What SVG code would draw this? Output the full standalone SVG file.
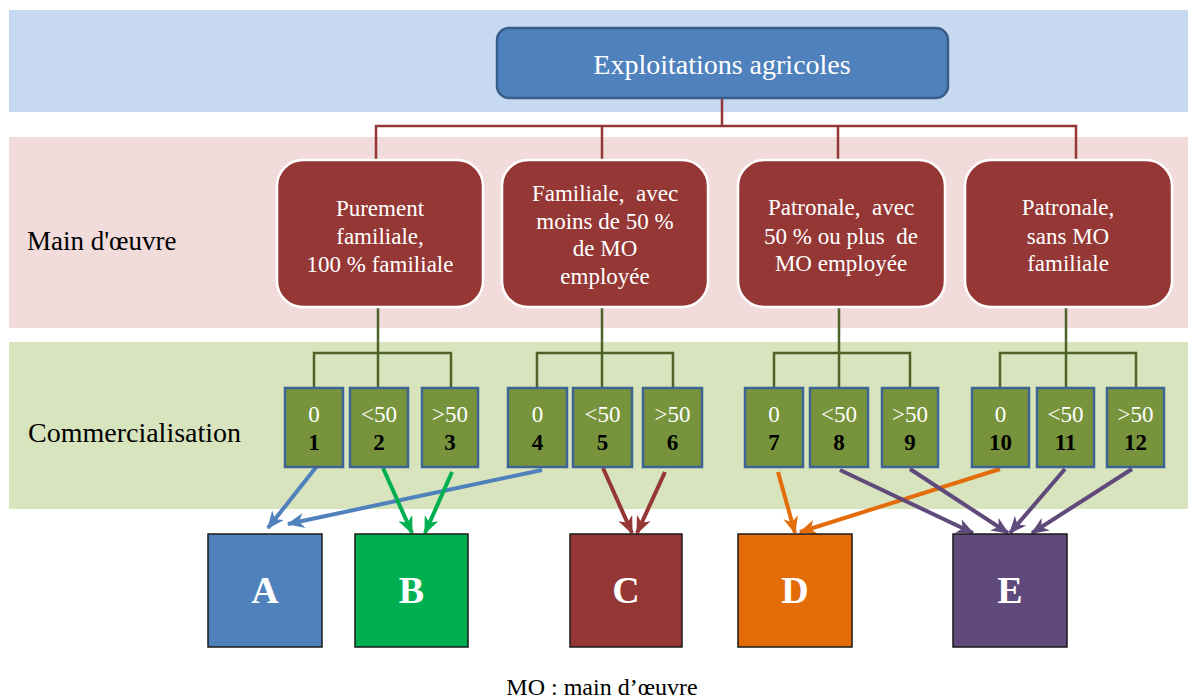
<svg xmlns="http://www.w3.org/2000/svg" width="1188" height="700" viewBox="0 0 1188 700">
<style>
.band{stroke:none}
.lbl{font-family:"Liberation Serif","Times New Roman",serif;font-size:27px;fill:#000}
.top{fill:#4f81bd;stroke:#385d8a;stroke-width:2.5}
.mo{fill:#953735;stroke:#ffffff;stroke-width:2.5}
.wt{font-family:"Liberation Serif","Times New Roman",serif;font-size:23px;fill:#fff;text-anchor:middle}
.box{fill:#77933c;stroke:#3e6494;stroke-width:2.5}
.bt{font-family:"Liberation Serif","Times New Roman",serif;font-size:23px;fill:#fff;text-anchor:middle}
.bn{font-family:"Liberation Serif","Times New Roman",serif;font-size:23px;font-weight:bold;fill:#000;text-anchor:middle}
.cat{stroke:#1a1a1a;stroke-width:1.5}
.ct{font-family:"Liberation Serif","Times New Roman",serif;font-size:38px;font-weight:bold;fill:#fff;text-anchor:middle}
.rc{fill:none;stroke:#953735;stroke-width:2.5}
.gc{fill:none;stroke:#4f6228;stroke-width:2.5}
.ar{fill:none;stroke-width:4}
</style>
<defs>
<marker id="mA" viewBox="0 0 14 12" refX="13" refY="6" markerWidth="18" markerHeight="15" markerUnits="userSpaceOnUse" orient="auto"><path d="M0,0 L14,6 L0,12 L4,6 z" fill="#4f81bd"/></marker>
<marker id="mB" viewBox="0 0 14 12" refX="13" refY="6" markerWidth="18" markerHeight="15" markerUnits="userSpaceOnUse" orient="auto"><path d="M0,0 L14,6 L0,12 L4,6 z" fill="#00b050"/></marker>
<marker id="mC" viewBox="0 0 14 12" refX="13" refY="6" markerWidth="18" markerHeight="15" markerUnits="userSpaceOnUse" orient="auto"><path d="M0,0 L14,6 L0,12 L4,6 z" fill="#953735"/></marker>
<marker id="mD" viewBox="0 0 14 12" refX="13" refY="6" markerWidth="18" markerHeight="15" markerUnits="userSpaceOnUse" orient="auto"><path d="M0,0 L14,6 L0,12 L4,6 z" fill="#e46c0a"/></marker>
<marker id="mE" viewBox="0 0 14 12" refX="13" refY="6" markerWidth="18" markerHeight="15" markerUnits="userSpaceOnUse" orient="auto"><path d="M0,0 L14,6 L0,12 L4,6 z" fill="#604a7b"/></marker>
</defs>
<rect width="1188" height="700" fill="#fff"/>
<g id="bands">
<rect class="band" x="9" y="10" width="1179" height="102" fill="#c6d9f1"/>
<rect class="band" x="9" y="137" width="1179" height="191" fill="#f2dcdb"/>
<rect class="band" x="9" y="342" width="1179" height="167" fill="#d7e4bd"/>
<text class="lbl" x="27" y="250">Main d'œuvre</text>
<text class="lbl" x="28" y="442" style="font-size:28px">Commercialisation</text>
</g>
<g id="connectors">
<path class="rc" d="M722,98 V126 M376,160 V126 H1076 V160 M602,126 V160 M838,126 V160"/>
<path class="gc" d="M378,307 V353 M314,388 V353 H451 V388 M378,353 V388"/>
<path class="gc" d="M602,307 V353 M537,388 V353 H673 V388 M602,353 V388"/>
<path class="gc" d="M839,307 V353 M774,388 V353 H910 V388 M839,353 V388"/>
<path class="gc" d="M1066,307 V353 M1000,388 V353 H1136 V388 M1066,353 V388"/>
<line class="ar" stroke="#4f81bd" x1="317" y1="466" x2="268" y2="528" marker-end="url(#mA)"/>
<line class="ar" stroke="#4f81bd" x1="542" y1="470" x2="288" y2="524" marker-end="url(#mA)"/>
<line class="ar" stroke="#00b050" x1="383" y1="468" x2="412" y2="533" marker-end="url(#mB)"/>
<line class="ar" stroke="#00b050" x1="452" y1="472" x2="425" y2="533" marker-end="url(#mB)"/>
<line class="ar" stroke="#953735" x1="603" y1="468" x2="632" y2="533" marker-end="url(#mC)"/>
<line class="ar" stroke="#953735" x1="665" y1="472" x2="637" y2="533" marker-end="url(#mC)"/>
<line class="ar" stroke="#e46c0a" x1="778" y1="472" x2="795" y2="533" marker-end="url(#mD)"/>
<line class="ar" stroke="#e46c0a" x1="1000" y1="469" x2="800" y2="532" marker-end="url(#mD)"/>
<line class="ar" stroke="#604a7b" x1="840" y1="470" x2="973" y2="533" marker-end="url(#mE)"/>
<line class="ar" stroke="#604a7b" x1="910" y1="469" x2="1008" y2="533" marker-end="url(#mE)"/>
<line class="ar" stroke="#604a7b" x1="1065" y1="469" x2="1010" y2="533" marker-end="url(#mE)"/>
<line class="ar" stroke="#604a7b" x1="1132" y1="469" x2="1032" y2="533" marker-end="url(#mE)"/>
</g>
<g id="root">
<rect class="top" x="497" y="28" width="451" height="70" rx="12"/>
<text class="wt" x="722" y="74" style="font-size:28px">Exploitations agricoles</text>
</g>
<g id="mo1">
<rect class="mo" x="277" y="160" width="206" height="147" rx="26"/>
<text class="wt" x="380" y="216">Purement</text>
<text class="wt" x="380" y="244">familiale,</text>
<text class="wt" x="380" y="272">100 % familiale</text>
</g>
<g id="mo2">
<rect class="mo" x="502" y="160" width="206" height="147" rx="26"/>
<text class="wt" x="605" y="201" xml:space="preserve">Familiale,  avec</text>
<text class="wt" x="605" y="229">moins de 50 %</text>
<text class="wt" x="605" y="256">de MO</text>
<text class="wt" x="605" y="284">employée</text>
</g>
<g id="mo3">
<rect class="mo" x="738" y="160" width="207" height="147" rx="26"/>
<text class="wt" x="841" y="215" xml:space="preserve">Patronale,  avec</text>
<text class="wt" x="841" y="244" xml:space="preserve">50 % ou plus  de</text>
<text class="wt" x="841" y="271">MO employée</text>
</g>
<g id="mo4">
<rect class="mo" x="965" y="160" width="207" height="147" rx="26"/>
<text class="wt" x="1068" y="215">Patronale,</text>
<text class="wt" x="1068" y="244">sans MO</text>
<text class="wt" x="1068" y="271">familiale</text>
</g>
<g id="c1"><rect class="box" x="285" y="388" width="58" height="79"/><text class="bt" x="314" y="422">0</text><text class="bn" x="314" y="450">1</text></g>
<g id="c2"><rect class="box" x="350" y="388" width="58" height="79"/><text class="bt" x="379" y="422">&lt;50</text><text class="bn" x="379" y="450">2</text></g>
<g id="c3"><rect class="box" x="422" y="388" width="56" height="79"/><text class="bt" x="450" y="422">&gt;50</text><text class="bn" x="450" y="450">3</text></g>
<g id="c4"><rect class="box" x="508" y="388" width="59" height="79"/><text class="bt" x="537.5" y="422">0</text><text class="bn" x="537.5" y="450">4</text></g>
<g id="c5"><rect class="box" x="573" y="388" width="59" height="79"/><text class="bt" x="602.5" y="422">&lt;50</text><text class="bn" x="602.5" y="450">5</text></g>
<g id="c6"><rect class="box" x="643" y="388" width="59" height="79"/><text class="bt" x="672.5" y="422">&gt;50</text><text class="bn" x="672.5" y="450">6</text></g>
<g id="c7"><rect class="box" x="745" y="388" width="58" height="79"/><text class="bt" x="774" y="422">0</text><text class="bn" x="774" y="450">7</text></g>
<g id="c8"><rect class="box" x="810" y="388" width="58" height="79"/><text class="bt" x="839" y="422">&lt;50</text><text class="bn" x="839" y="450">8</text></g>
<g id="c9"><rect class="box" x="882" y="388" width="56" height="79"/><text class="bt" x="910" y="422">&gt;50</text><text class="bn" x="910" y="450">9</text></g>
<g id="c10"><rect class="box" x="972" y="388" width="57" height="79"/><text class="bt" x="1000.5" y="422">0</text><text class="bn" x="1000.5" y="450">10</text></g>
<g id="c11"><rect class="box" x="1037" y="388" width="57" height="79"/><text class="bt" x="1065.5" y="422">&lt;50</text><text class="bn" x="1065.5" y="450">11</text></g>
<g id="c12"><rect class="box" x="1107" y="388" width="57" height="79"/><text class="bt" x="1135.5" y="422">&gt;50</text><text class="bn" x="1135.5" y="450">12</text></g>
<g id="A"><rect class="cat" x="208" y="534" width="114" height="113" fill="#4f81bd"/><text class="ct" x="265" y="603">A</text></g>
<g id="B"><rect class="cat" x="355" y="534" width="113" height="113" fill="#00b050"/><text class="ct" x="411.5" y="603">B</text></g>
<g id="C"><rect class="cat" x="570" y="534" width="112" height="113" fill="#953735"/><text class="ct" x="626" y="603">C</text></g>
<g id="D"><rect class="cat" x="738" y="534" width="114" height="113" fill="#e36c09"/><text class="ct" x="795" y="603">D</text></g>
<g id="E"><rect class="cat" x="953" y="534" width="114" height="113" fill="#604a7b"/><text class="ct" x="1010" y="603">E</text></g>
<text x="602" y="695" style="font-family:'Liberation Serif','Times New Roman',serif;font-size:24px;fill:#000;text-anchor:middle">MO : main d’œuvre</text>
</svg>
